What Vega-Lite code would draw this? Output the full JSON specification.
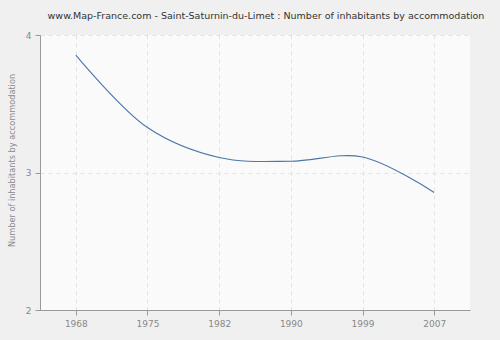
{
  "$schema": "https://vega.github.io/schema/vega-lite/v6.json",
  "width": 430,
  "height": 275,
  "autosize": {"type": "none"},
  "padding": {"left": 40, "top": 35, "right": 30, "bottom": 30},
  "background": "#f0f0f0",
  "title": {
    "text": "www.Map-France.com - Saint-Saturnin-du-Limet : Number of inhabitants by accommodation",
    "font": "DejaVu Sans",
    "fontSize": 9.5,
    "fontWeight": "normal",
    "color": "#333333",
    "anchor": "middle",
    "dx": 11,
    "offset": 11
  },
  "config": {
    "view": {"fill": "#fafafa", "stroke": null},
    "axis": {
      "labelFont": "DejaVu Sans",
      "labelFontSize": 9,
      "labelColor": "#888888",
      "titleFont": "DejaVu Sans",
      "titleFontSize": 8.2,
      "titleFontWeight": "normal",
      "titleColor": "#888888",
      "domainColor": "#999999",
      "tickColor": "#999999",
      "tickSize": 5,
      "gridColor": "#e3e3e3",
      "gridDash": [4, 4],
      "gridWidth": 1
    }
  },
  "data": {
    "values": [
      {"year": "1968", "value": 3.854},
      {"year": "1975", "value": 3.327},
      {"year": "1982", "value": 3.109},
      {"year": "1990", "value": 3.082},
      {"year": "1999", "value": 3.113},
      {"year": "2007", "value": 2.855}
    ]
  },
  "mark": {"type": "line", "interpolate": "catmull-rom", "color": "#4a76a8", "strokeWidth": 1.1},
  "encoding": {
    "x": {
      "field": "year",
      "type": "ordinal",
      "scale": {"type": "point", "padding": 0.5},
      "axis": {"title": null, "labelAngle": 0, "grid": true, "labelPadding": 4}
    },
    "y": {
      "field": "value",
      "type": "quantitative",
      "scale": {"domain": [2, 4], "nice": false},
      "axis": {"title": "Number of inhabitants by accommodation", "values": [2, 3, 4], "format": ".0f", "labelOverlap": false, "grid": true, "titlePadding": 9, "titleY": 125, "labelPadding": 4}
    }
  }
}
